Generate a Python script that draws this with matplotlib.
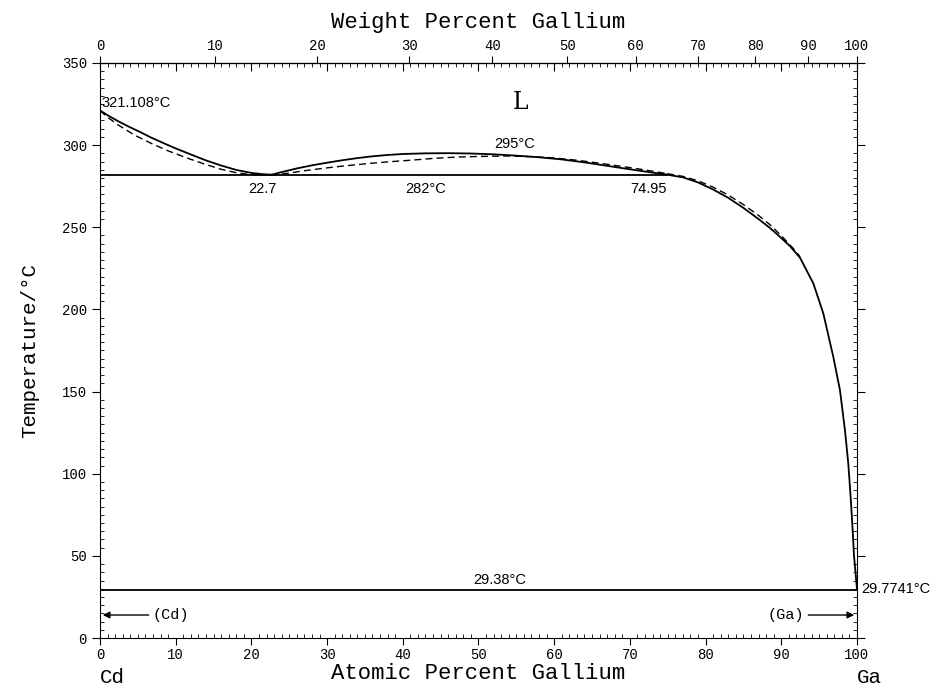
import numpy as np
import matplotlib.pyplot as plt
from matplotlib.ticker import MultipleLocator, NullFormatter

# Cd-Ga phase diagram (atomic percent Ga vs temperature)
M_GA = 69.723
M_CD = 112.41

# liquidus, left branch (solid = assessed, dashed = calculated)
liq_left_x = [0, 1, 2.5, 4, 5.3, 6.8, 8.5, 10, 11.9, 14, 16, 18, 20, 21.5, 22.7]
liq_left_t = [321.108, 318.2, 314.3, 310.8, 308.0, 304.5, 301.0, 298.0, 294.5, 290.7, 287.6, 284.9,
              283.1, 282.3, 282.0]
calc_left_x = [0, 0.9, 2.5, 4.6, 6.8, 9, 11.9, 14, 16, 18, 19.5, 21.1]
calc_left_t = [321.108, 317.3, 312.0, 306.0, 301.0, 296.5, 291.5, 288.2, 285.3, 283.2, 282.3, 281.8]

# miscibility gap dome
gap_x = [22.7, 24, 26, 28, 30, 32, 34, 36, 38, 40, 43, 46, 49, 52, 55, 58, 61, 64, 67, 70, 72.5, 74.95]
gap_t = [282.0, 283.6, 285.8, 287.7, 289.3, 290.8, 292.1, 293.2, 294.0, 294.6, 295.0, 295.1, 294.9,
         294.4, 293.6, 292.6, 291.3, 289.5, 287.4, 285.3, 283.6, 282.0]
calc_gap_x = [21.1, 23, 25, 27, 29.5, 32, 35, 38, 41, 44, 47, 50, 53.7, 57, 60, 63, 66, 69, 72, 74.95]
calc_gap_t = [281.8, 281.9, 283.0, 284.4, 285.9, 287.2, 288.6, 289.8, 290.8, 291.9, 292.7, 293.1, 293.4,
              293.0, 292.2, 290.8, 289.0, 287.0, 284.9, 282.6]

# liquidus, right branch
liq_right_x = [74.95, 77, 79, 81, 83, 85, 87, 88.5, 89.8, 91.15, 92.47, 94.23, 95.55, 96.87, 97.75,
               98.41, 98.85, 99.16, 99.43, 99.6, 100]
liq_right_t = [282.0, 280.4, 277.3, 273.0, 267.9, 261.8, 255.0, 249.6, 244.3, 238.5, 231.5, 215.9,
               197.6, 171.2, 150.9, 126.6, 106.3, 86.0, 65.7, 50.5, 29.7741]
calc_right_x = [74.95, 77, 79, 81, 83, 85, 87, 88.5, 90, 91.5, 92.5]
calc_right_t = [282.6, 281.0, 278.3, 274.4, 269.6, 263.8, 257.2, 251.6, 244.9, 237.5, 232.0]

# invariant lines
monotectic_t = 282
monotectic_x = [0, 74.95]
eutectic_t = 29.38
eutectic_x = [0, 100]


def at2wt(a):
    a = np.asarray(a, dtype=float)
    return 100 * a * M_GA / (a * M_GA + (100 - a) * M_CD)


def wt2at(w):
    w = np.asarray(w, dtype=float)
    return 100 * (w / M_GA) / (w / M_GA + (100 - w) / M_CD)


mono = 'Liberation Mono'
sans = 'Liberation Sans'

fig = plt.figure(figsize=(9.37, 6.89), dpi=100)
ax = fig.add_axes([0.1067, 0.0740, 0.8079, 0.8346])

ax.plot(liq_left_x, liq_left_t, color='black', lw=1.3)
ax.plot(gap_x, gap_t, color='black', lw=1.3)
ax.plot(liq_right_x, liq_right_t, color='black', lw=1.3)
ax.plot(calc_left_x, calc_left_t, color='black', lw=1.0, dashes=(5, 3))
ax.plot(calc_gap_x, calc_gap_t, color='black', lw=1.0, dashes=(5, 3))
ax.plot(calc_right_x, calc_right_t, color='black', lw=1.0, dashes=(5, 3))
ax.plot(monotectic_x, [monotectic_t] * 2, color='black', lw=1.3)
ax.plot(eutectic_x, [eutectic_t] * 2, color='black', lw=1.3)

# terminal solid solutions
ax.annotate('', xy=(0, 14), xytext=(6.8, 14),
            arrowprops=dict(arrowstyle='-|>', color='black', lw=1.0, mutation_scale=10))
ax.text(6.9, 14, '(Cd)', family=mono, fontsize=11, va='center', ha='left')
ax.annotate('', xy=(100, 14), xytext=(93.2, 14),
            arrowprops=dict(arrowstyle='-|>', color='black', lw=1.0, mutation_scale=10))
ax.text(93.0, 14, '(Ga)', family=mono, fontsize=11, va='center', ha='right')

# labels on the diagram
ax.text(0.2, 321.5, '321.108°C', family=sans, fontsize=10.5, ha='left', va='bottom')
ax.text(55.5, 326, 'L', family='DejaVu Serif', fontsize=17, ha='center', va='center')
ax.text(54.8, 296.5, '295°C', family=sans, fontsize=10.5, ha='center', va='bottom')
ax.text(21.5, 277.5, '22.7', family=sans, fontsize=10.5, ha='center', va='top')
ax.text(43, 277.5, '282°C', family=sans, fontsize=10.5, ha='center', va='top')
ax.text(72.4, 277.5, '74.95', family=sans, fontsize=10.5, ha='center', va='top')
ax.text(52.8, 31, '29.38°C', family=sans, fontsize=10.5, ha='center', va='bottom')
ax.text(100.6, 30, '29.7741°C', family=sans, fontsize=10.5, ha='left', va='center')

ax.set_xlim(0, 100)
ax.set_ylim(0, 350)

ax.xaxis.set_major_locator(MultipleLocator(10))
ax.xaxis.set_minor_locator(MultipleLocator(1))
ax.yaxis.set_major_locator(MultipleLocator(50))
ax.yaxis.set_minor_locator(MultipleLocator(5))
ax.tick_params(axis='x', which='major', direction='out', length=5, top=False, labelsize=10, pad=2)
ax.tick_params(axis='x', which='minor', direction='in', length=3, top=False)
ax.tick_params(axis='y', which='major', direction='out', length=6, left=True, right=True, labelsize=10)
ax.tick_params(axis='y', which='minor', direction='in', length=3, left=True, right=True)
for lab in ax.get_xticklabels() + ax.get_yticklabels():
    lab.set_family(mono)

# atomic percent ticks along the top edge (inward)
top_at = ax.secondary_xaxis('top')
top_at.xaxis.set_major_locator(MultipleLocator(10))
top_at.xaxis.set_minor_locator(MultipleLocator(1))
top_at.xaxis.set_major_formatter(NullFormatter())
top_at.tick_params(which='major', direction='in', length=6)
top_at.tick_params(which='minor', direction='in', length=3)

# weight percent scale on top
top_wt = ax.secondary_xaxis('top', functions=(at2wt, wt2at))
top_wt.set_xticks(np.arange(0, 101, 10))
top_wt.tick_params(which='major', direction='out', length=5, labelsize=10, pad=2)
top_wt.tick_params(which='minor', length=0)
for lab in top_wt.get_xticklabels():
    lab.set_family(mono)
top_wt.set_xlabel('Weight Percent Gallium', family=mono, fontsize=16, labelpad=8)

ax.set_xlabel('Atomic Percent Gallium', family=mono, fontsize=16, labelpad=1)
ax.set_ylabel('Temperature/°C', family=mono, fontsize=15, labelpad=16)
ax.text(0, -0.068, 'Cd', transform=ax.transAxes, family=mono, fontsize=15, ha='left', va='center')
ax.text(1.0, -0.068, 'Ga', transform=ax.transAxes, family=mono, fontsize=15, ha='left', va='center')

fig.savefig('out.png', dpi=100)
